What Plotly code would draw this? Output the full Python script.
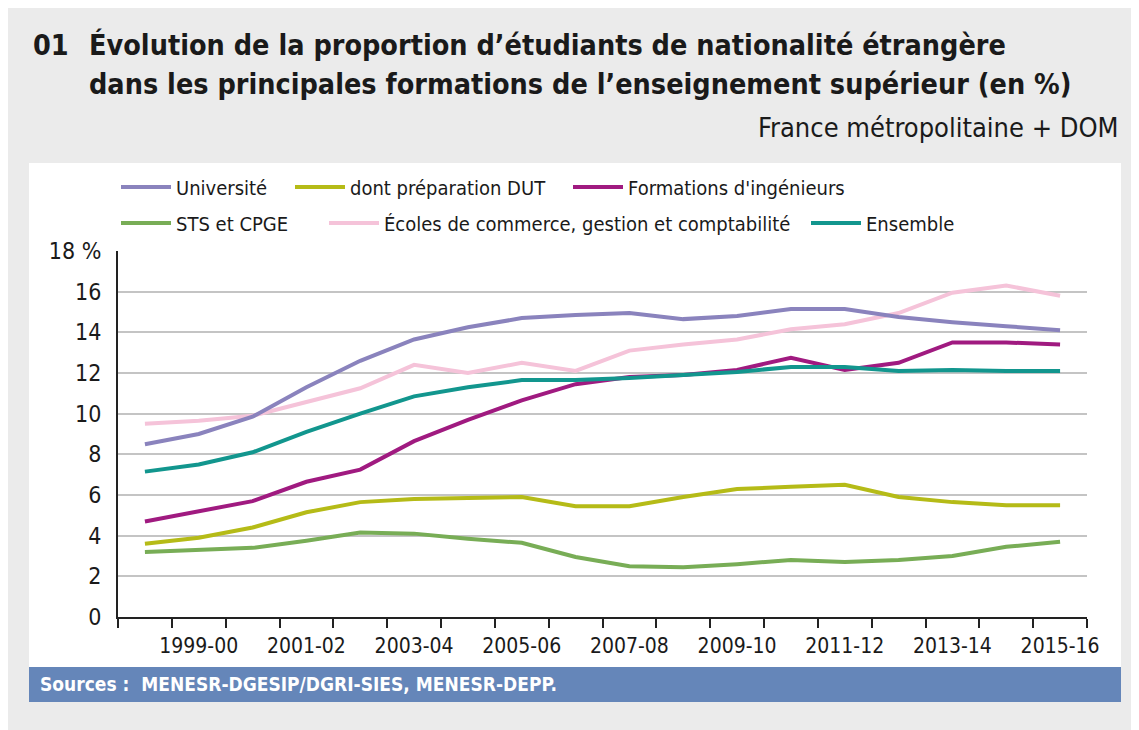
import plotly.graph_objects as go

# années universitaires (axe x)
annees = ["1998-99", "1999-00", "2000-01", "2001-02", "2002-03", "2003-04",
          "2004-05", "2005-06", "2006-07", "2007-08", "2008-09", "2009-10",
          "2010-11", "2011-12", "2012-13", "2013-14", "2014-15", "2015-16"]
annees_affichees = ["1999-00", "2001-02", "2003-04", "2005-06", "2007-08",
                    "2009-10", "2011-12", "2013-14", "2015-16"]

universite = [8.5, 9.0, 9.85, 11.3, 12.6, 13.65, 14.25, 14.7, 14.85,
              14.95, 14.65, 14.8, 15.15, 15.15, 14.75, 14.5, 14.3, 14.1]
dut = [3.6, 3.9, 4.4, 5.15, 5.65, 5.8, 5.85, 5.9, 5.45,
       5.45, 5.9, 6.3, 6.4, 6.5, 5.9, 5.65, 5.5, 5.5]
ingenieurs = [4.7, 5.2, 5.7, 6.65, 7.25, 8.65, 9.7, 10.65, 11.45,
              11.8, 11.9, 12.15, 12.75, 12.15, 12.5, 13.5, 13.5, 13.4]
sts_cpge = [3.2, 3.3, 3.4, 3.75, 4.15, 4.1, 3.85, 3.65, 2.95,
            2.5, 2.45, 2.6, 2.8, 2.7, 2.8, 3.0, 3.45, 3.7]
ecoles_commerce = [9.5, 9.65, 9.9, 10.6, 11.25, 12.4, 12.0, 12.5, 12.1,
                   13.1, 13.4, 13.65, 14.15, 14.4, 14.95, 15.95, 16.3, 15.8]
ensemble = [7.15, 7.5, 8.1, 9.1, 10.0, 10.85, 11.3, 11.65, 11.65,
            11.75, 11.9, 12.05, 12.3, 12.3, 12.1, 12.15, 12.1, 12.1]

y_ticks = [0, 2, 4, 6, 8, 10, 12, 14, 16, 18]
y_labels = ["0", "2", "4", "6", "8", "10", "12", "14", "16", "18 %"]

W, H = 1139, 730
OFF = 8  # marge du <body> de la page html
L, T = 118 - OFF, 251 - OFF
PW, PH = 969, 366
R, B = W - L - PW, H - T - PH
FONT = "DejaVu Sans Condensed, DejaVu Sans, sans-serif"


def px_x(px):
    return (px - OFF - L) / PW


def px_y(py):
    return (T + PH - (py - OFF)) / PH


series = [
    ("Université", universite, "#8a83bd", "legend", 176, 188),
    ("dont préparation DUT", dut, "#b5bb17", "legend2", 350, 188),
    ("Formations d'ingénieurs", ingenieurs, "#a01a80", "legend3", 628, 188),
    ("STS et CPGE", sts_cpge, "#78ad56", "legend4", 176, 224),
    ("Écoles de commerce, gestion et comptabilité", ecoles_commerce, "#f5c3d9", "legend5", 384, 224),
    ("Ensemble", ensemble, "#12968e", "legend6", 866, 224),
]

fig = go.Figure()
# ordre de tracé : les lignes claires en dessous
for nom, vals, col, leg, tx, ty in [series[3], series[1], series[4], series[0], series[2], series[5]]:
    fig.add_trace(go.Scatter(x=annees, y=vals, mode="lines", name=nom,
                             line=dict(color=col, width=4), legend=leg,
                             hoverinfo="x+y+name"))

legends = {}
for nom, vals, col, leg, tx, ty in series:
    legends[leg] = dict(x=px_x(tx - 60), y=px_y(ty - 1), xanchor="left", yanchor="middle",
                        orientation="h", bgcolor="rgba(0,0,0,0)", itemwidth=50,
                        font=dict(family=FONT, size=20, color="#1a1a1a"))

fig.update_layout(
    width=W, height=H,
    margin=dict(l=L, r=R, t=T, b=B),
    paper_bgcolor="#ebebeb",
    plot_bgcolor="white",
    showlegend=True,
    font=dict(family=FONT, color="#1a1a1a"),
    **legends,
)

fig.update_xaxes(
    type="category", range=[-0.5, len(annees) - 0.5],
    tickmode="array", tickvals=annees,
    ticktext=[a if a in annees_affichees else "" for a in annees],
    tickangle=0, ticklabelstandoff=9,
    tickson="boundaries", ticks="outside", ticklen=9, tickwidth=1.5, tickcolor="#222",
    showline=True, linecolor="#222", linewidth=2,
    showgrid=False, tickfont=dict(family=FONT, size=21, color="#1a1a1a"),
)
fig.update_yaxes(
    range=[0, 18], tickmode="array", tickvals=y_ticks, ticktext=y_labels,
    showline=True, linecolor="#222", linewidth=2,
    showgrid=True, gridcolor="#c4c4c4", gridwidth=1.5, zeroline=False,
    ticks="", ticklabelstandoff=10,
    tickfont=dict(family=FONT, size=23, color="#1a1a1a"),
)

# panneau blanc et bandeau des sources
fig.add_shape(type="rect", xref="paper", yref="paper", layer="below",
              x0=px_x(29), x1=px_x(1121), y0=px_y(667), y1=px_y(163),
              fillcolor="white", line=dict(width=0))
fig.add_shape(type="rect", xref="paper", yref="paper", layer="below",
              x0=px_x(29), x1=px_x(1121), y0=px_y(702), y1=px_y(667),
              fillcolor="#6586b9", line=dict(width=0))

titre_font = dict(family=FONT, size=28.5, color="#1a1a1a")
fig.add_annotation(text="<b>01</b>", xref="paper", yref="paper", x=px_x(31), y=px_y(45),
                   xanchor="left", yanchor="middle", showarrow=False, font=titre_font)
fig.add_annotation(text="<b>Évolution de la proportion d’étudiants de nationalité étrangère</b>",
                   xref="paper", yref="paper", x=px_x(87), y=px_y(45),
                   xanchor="left", yanchor="middle", showarrow=False, font=titre_font)
fig.add_annotation(text="<b>dans les principales formations de l’enseignement supérieur (en %)</b>",
                   xref="paper", yref="paper", x=px_x(87), y=px_y(85),
                   xanchor="left", yanchor="middle", showarrow=False, font=titre_font)
fig.add_annotation(text="France métropolitaine + DOM",
                   xref="paper", yref="paper", x=px_x(1121), y=px_y(128),
                   xanchor="right", yanchor="middle", showarrow=False,
                   font=dict(family=FONT, size=27, color="#1a1a1a"))
fig.add_annotation(text="<b>Sources :  MENESR-DGESIP/DGRI-SIES, MENESR-DEPP.</b>",
                   xref="paper", yref="paper", x=px_x(38), y=px_y(684),
                   xanchor="left", yanchor="middle", showarrow=False,
                   font=dict(family=FONT, size=19, color="white"))

fig.write_html("out.html")
